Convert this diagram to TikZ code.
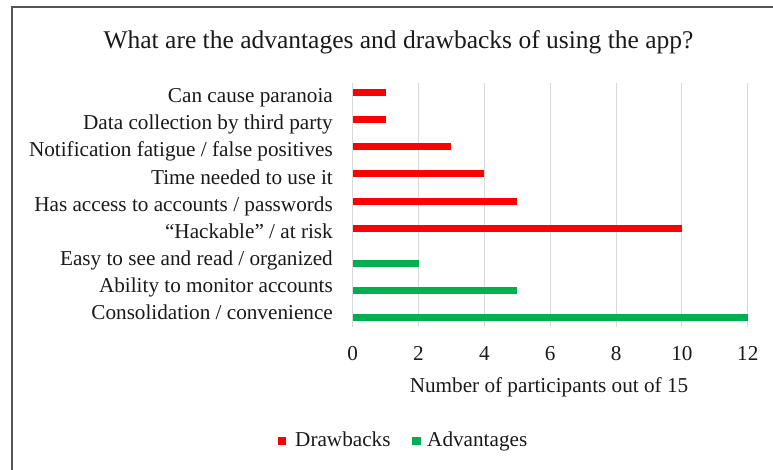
\documentclass[tikz,border=0pt]{standalone}
\usepackage{fontspec}
\setmainfont{Liberation Serif}
\definecolor{barred}{HTML}{FF0000}
\definecolor{bargreen}{HTML}{00B050}
\definecolor{gridgray}{HTML}{D9D9D9}
\definecolor{framegray}{HTML}{555555}
\definecolor{txt}{HTML}{1A1A1A}
\begin{document}
\begin{tikzpicture}[x=1bp,y=-1bp,
  labeltext/.style={inner sep=0pt, text=txt, font=\fontsize{21.2bp}{25bp}\selectfont},
  catlabel/.style={labeltext, anchor=base east},
  ticklabel/.style={labeltext, anchor=base},
  gridline/.style={draw=gridgray, line width=1bp},
  keybox/.style={minimum size=8.5bp, inner sep=0pt, anchor=south west}
]
\useasboundingbox (0,0) rectangle (773,470);
\fill[white] (0,0) rectangle (773,470);
% chart frame (left and top edges)
\draw[framegray, line width=2bp] (12,470) -- (12,7.5) -- (773,7.5);

% title
\node[inner sep=0pt, anchor=base, text=txt, font=\fontsize{25.5bp}{30bp}\selectfont]
  (title) at (398.5,49) {What are the advantages and drawbacks of using the app?};

% vertical grid lines and tick labels
\foreach \v in {0,2,...,12} {
  \pgfmathsetmacro{\gx}{352.7+32.92*\v}
  \coordinate (gtop\v) at (\gx,83);
  \coordinate (gbot\v) at (\gx,327);
  \draw[gridline] (gtop\v) -- (gbot\v);
  \node[ticklabel] (tick\v) at (\gx,360.5) {\v};
}

% category labels
\foreach \i/\name in {
  0/{Can cause paranoia},
  1/{Data collection by third party},
  2/{Notification fatigue / false positives},
  3/{Time needed to use it},
  4/{Has access to accounts / passwords},
  5/{“Hackable” / at risk},
  6/{Easy to see and read / organized},
  7/{Ability to monitor accounts},
  8/{Consolidation / convenience}} {
  \pgfmathsetmacro{\cy}{83+27.11*(\i+0.5)+6.2}
  \node[catlabel] (cat\i) at (333,\cy) {\name};
}

% bars: index / value / colour / offset from the category centre
\foreach \i/\v/\c/\off in {
  0/1/barred/-3.9, 1/1/barred/-3.9, 2/3/barred/-3.9, 3/4/barred/-3.9,
  4/5/barred/-3.9, 5/10/barred/-3.9,
  6/2/bargreen/4.3, 7/5/bargreen/4.3, 8/12/bargreen/4.3} {
  \pgfmathsetmacro{\by}{83+27.11*(\i+0.5)+\off}
  \pgfmathsetmacro{\bx}{352.7+32.92*\v}
  \fill[\c] (352.7,\by-3.5) rectangle (\bx,\by+3.5);
}

% axis title
\node[labeltext, anchor=base] (axistitle) at (549,392.7) {Number of participants out of 15};

% legend
\node[keybox, fill=barred] (keyred) at (277.5,445.5) {};
\node[labeltext, anchor=base west] (legred) at (295,446.7) {Drawbacks};
\node[keybox, fill=bargreen] (keygreen) at (412,445.5) {};
\node[labeltext, anchor=base west] (leggreen) at (427,446.7) {Advantages};
\end{tikzpicture}
\end{document}
